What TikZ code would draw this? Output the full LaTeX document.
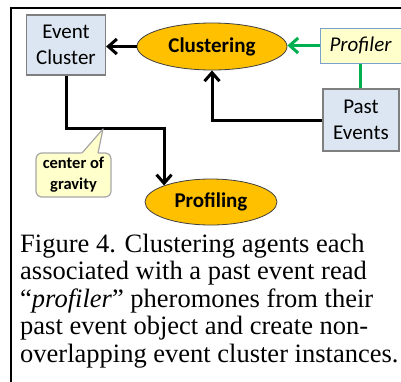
\documentclass[tikz,border=0pt]{standalone}
\usepackage{fontspec}
\setmainfont{Liberation Serif}
\newfontfamily\labfont{Carlito}
\usetikzlibrary{shapes.geometric,arrows.meta}

\definecolor{boxfill}{HTML}{DCE6F2}
\definecolor{boxline}{HTML}{7F7F7F}
\definecolor{agentfill}{HTML}{FFC000}
\definecolor{agentline}{HTML}{404040}
\definecolor{notefill}{HTML}{FFFFCC}
\definecolor{noteline}{HTML}{7BA0CD}
\definecolor{pheroline}{HTML}{00B050}
\definecolor{calloutline}{HTML}{A6A6A6}

\tikzset{
  objbox/.style={rectangle, draw=boxline, line width=1.2pt, fill=boxfill,
    inner sep=0pt, align=center, font=\labfont\fontsize{21}{25.5}\selectfont},
  agent/.style={ellipse, draw=agentline, line width=0.8pt, fill=agentfill,
    inner sep=0pt, font=\labfont\bfseries\fontsize{21}{25}\selectfont},
  pheromone/.style={rectangle, draw=noteline, line width=1pt, fill=notefill,
    inner sep=0pt, font=\labfont\itshape\fontsize{21}{25}\selectfont},
  notebox/.style={rectangle, rounded corners=6pt, draw=calloutline, line width=1.2pt,
    fill=notefill, inner sep=0pt, align=center,
    font=\labfont\bfseries\fontsize{16.5}{21}\selectfont},
  conn/.style={line width=3pt, draw=black,
    -{Straight Barb[length=8.5pt,width=15pt]}},
  gconn/.style={line width=3pt, draw=pheroline,
    -{Straight Barb[length=8.5pt,width=15pt]}},
  gline/.style={line width=3pt, draw=pheroline},
}

\begin{document}
\begin{tikzpicture}[x=1pt, y=-1pt]
\useasboundingbox (0,0) rectangle (401,381);

% frame (open to the right)
\draw[line width=2pt, line join=miter] (11,395) -- (11,8) -- (415,8);

% objects and agents
\node[objbox, minimum width=79pt, minimum height=60pt] (ec) at (66,45) {Event\\Cluster};
\node[agent, minimum width=150pt, minimum height=47pt] (clus) at (212,46.5) {Clustering};
\node[pheromone, minimum width=81pt, minimum height=35pt] (prof) at (360.5,45.5) {Profiler};
\node[objbox, minimum width=76pt, minimum height=62pt] (past) at (361,120) {Past\\Events};
\node[agent, minimum width=132pt, minimum height=46pt] (profg) at (211,202) {Profiling};

% connectors
\draw[conn] (clus.west) -- (clus.west -| ec.east);
\draw[gconn] (prof.west) -- (prof.west -| clus.east);
\draw[gline] (prof.south) -- (prof.south |- past.north);
\draw[conn] (past.west) -| (clus.south);
\draw[conn] (ec.south) -- ++(0,53) coordinate (bend) -| (profg.north west);

% callout on the centre-of-gravity link
\coordinate (cogtip) at (103,129);
\node[notebox, minimum width=75pt, minimum height=44pt] (cog) at (73.5,175) {center of\\gravity};
\fill[notefill] (80.2,155) -- (cogtip) -- (97.6,155) -- cycle;
\draw[calloutline, line width=1.2pt, line join=round] (82,153) -- (cogtip) -- (98,153);

% caption (anchored at the baseline of its last line)
\node[anchor=base west, inner sep=0pt, align=left,
      font=\fontsize{26.5}{27.5}\selectfont] (caption) at (20,362)
  {Figure 4. Clustering agents each\\
   associated with a past event read\\
   “\textit{profiler}” pheromones from their\\
   past event object and create non-\\
   overlapping event cluster instances.};
\end{tikzpicture}
\end{document}
